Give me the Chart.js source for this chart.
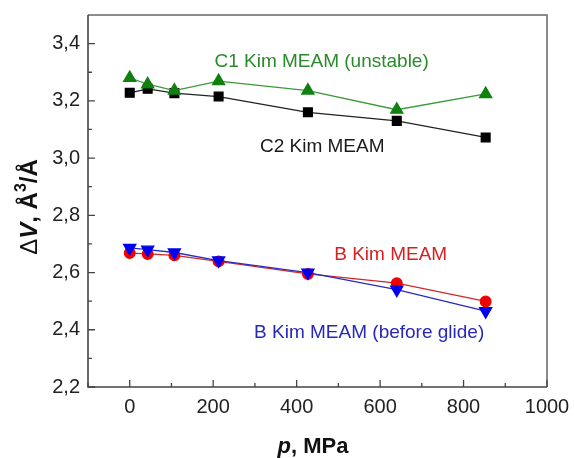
<!DOCTYPE html>
<html>
<head>
<meta charset="utf-8">
<script src="https://cdn.jsdelivr.net/npm/chart.js@4"></script>
<style>
html,body{margin:0;padding:0;background:#fff;}
canvas{display:block;}
</style>
</head>
<body>
<canvas id="c" width="574" height="458"></canvas>
<script>
// ---- data ----
const pressures = [0, 43, 107, 213, 427, 640, 853];
const c1Unstable = [3.280, 3.258, 3.236, 3.269, 3.236, 3.169, 3.224];
const c2 = [3.228, 3.242, 3.227, 3.215, 3.160, 3.130, 3.072];
const bBeforeGlide = [2.686, 2.680, 2.670, 2.642, 2.600, 2.540, 2.465];
const bKim = [2.668, 2.665, 2.660, 2.639, 2.595, 2.563, 2.499];
const xTicks = [0, 200, 400, 600, 800, 1000];
const xMinorTicks = [-100, 100, 300, 500, 700, 900];
const yTicks = [2.2, 2.4, 2.6, 2.8, 3.0, 3.2, 3.4];
const yMinorTicks = [2.3, 2.5, 2.7, 2.9, 3.1, 3.3];
const labels = [
  {text: 'C1 Kim MEAM (unstable)', x: 203, y: 3.336, color: '#2b8a2b'},
  {text: 'C2 Kim MEAM', x: 312, y: 3.040, color: '#1a1a1a'},
  {text: 'B Kim MEAM', x: 490, y: 2.661, color: '#d42222'},
  {text: 'B Kim MEAM (before glide)', x: 298, y: 2.391, color: '#2828b8'}
];

const FONT = '"Liberation Sans", Arial, sans-serif';
Chart.defaults.font.family = FONT;

function pts(ys){ return pressures.map((p,i)=>({x:p, y:ys[i]})); }

const decor = {
  id: 'decor',
  beforeDatasetsDraw(chart){
    const {ctx, chartArea:a, scales:{x, y}} = chart;
    ctx.save();
    ctx.strokeStyle = '#666';
    ctx.lineWidth = 1.5;
    ctx.beginPath();
    ctx.moveTo(a.left, a.top); ctx.lineTo(a.right, a.top); ctx.lineTo(a.right, a.bottom);
    ctx.stroke();
    ctx.strokeStyle = '#444';
    ctx.lineWidth = 1.6;
    ctx.beginPath();
    ctx.moveTo(a.left, a.top); ctx.lineTo(a.left, a.bottom); ctx.lineTo(a.right, a.bottom);
    ctx.stroke();
    ctx.lineWidth = 1.3;
    ctx.beginPath();
    xTicks.forEach(v=>{const px=x.getPixelForValue(v); ctx.moveTo(px,a.bottom); ctx.lineTo(px,a.bottom-7);});
    xMinorTicks.forEach(v=>{const px=x.getPixelForValue(v); ctx.moveTo(px,a.bottom); ctx.lineTo(px,a.bottom-4);});
    yTicks.forEach(v=>{const py=y.getPixelForValue(v); ctx.moveTo(a.left,py); ctx.lineTo(a.left+7,py);});
    yMinorTicks.forEach(v=>{const py=y.getPixelForValue(v); ctx.moveTo(a.left,py); ctx.lineTo(a.left+4,py);});
    ctx.stroke();
    ctx.restore();
  },
  afterDraw(chart){
    const {ctx, scales:{x, y}} = chart;
    ctx.save();
    ctx.font = '19px ' + FONT;
    ctx.textBaseline = 'middle';
    ctx.textAlign = 'left';
    labels.forEach(l=>{
      ctx.fillStyle = l.color;
      ctx.fillText(l.text, x.getPixelForValue(l.x), y.getPixelForValue(l.y));
    });
    const xs = [
      {t:'p', f:'italic bold 22px '+FONT},
      {t:', MPa', f:'bold 22px '+FONT}
    ];
    drawSegs(ctx, xs, 313, 447, 0);
    const ys = [
      {t:'Δ', f:'24px '+FONT},
      {t:'V', f:'italic bold 24px '+FONT},
      {t:', Å', f:'bold 24px '+FONT},
      {t:'3', f:'bold 16px '+FONT, dy:-8},
      {t:'/Å', f:'bold 24px '+FONT}
    ];
    drawSegs(ctx, ys, 30, 207, -Math.PI/2);
    ctx.restore();
  }
};

function drawSegs(ctx, segs, cx, cy, rot){
  ctx.save();
  ctx.translate(cx, cy);
  ctx.rotate(rot);
  ctx.fillStyle = '#111';
  ctx.textBaseline = 'middle';
  ctx.textAlign = 'left';
  let total = 0;
  segs.forEach(s=>{ctx.font=s.f; s.w=ctx.measureText(s.t).width; total+=s.w;});
  let px = -total/2;
  segs.forEach(s=>{ctx.font=s.f; ctx.fillText(s.t, px, s.dy||0); px+=s.w;});
  ctx.restore();
}

new Chart(document.getElementById('c'), {
  type: 'line',
  data: {
    datasets: [
      {label:'C1 Kim MEAM (unstable)', data: pts(c1Unstable), borderColor:'#3a9a3a', backgroundColor:'#108010', pointBorderColor:'#108010', pointStyle:'triangle', pointRadius:7, borderWidth:1.3},
      {label:'C2 Kim MEAM', data: pts(c2), borderColor:'#222', backgroundColor:'#000', pointBorderColor:'#000', pointStyle:'rect', pointRadius:6.2, borderWidth:1.3},
      {label:'B Kim MEAM (before glide)', data: pts(bBeforeGlide), borderColor:'#2a2ac0', backgroundColor:'#0000f0', pointBorderColor:'#0000f0', pointStyle:'triangle', pointRotation:180, pointRadius:7, borderWidth:1.3},
      {label:'B Kim MEAM', data: pts(bKim), borderColor:'#d02828', backgroundColor:'#f00000', pointBorderColor:'#f00000', pointStyle:'circle', pointRadius:5.3, borderWidth:1.3}
    ]
  },
  options: {
    responsive: false,
    animation: false,
    layout: {padding: {top: 15, right: 27, left: 0, bottom: 0}},
    plugins: {legend: {display:false}, tooltip: {enabled:false}},
    elements: {line: {tension: 0}},
    scales: {
      x: {
        type: 'linear', min: -100, max: 1000,
        afterBuildTicks: s => { s.ticks = xTicks.map(v=>({value:v})); },
        afterFit: s => { s.height = 71; s.paddingLeft = 0; s.paddingRight = 0; s.paddingTop = 0; s.paddingBottom = 0; },
        grid: {display:false, drawTicks:false},
        border: {display:false},
        ticks: {padding: 8, color:'#222', font:{size:20}, maxRotation:0, callback: v => String(v)}
      },
      y: {
        type: 'linear', min: 2.2, max: 3.5,
        afterBuildTicks: s => { s.ticks = yTicks.map(v=>({value:v})); },
        afterFit: s => { s.width = 88; s.paddingTop = 0; s.paddingBottom = 0; s.paddingLeft = 0; s.paddingRight = 0; },
        grid: {display:false, drawTicks:false},
        border: {display:false},
        ticks: {padding: 8, color:'#222', font:{size:20}, callback: v => Number(v).toFixed(1).replace('.', ',')}
      }
    }
  },
  plugins: [decor]
});
</script>
</body>
</html>
